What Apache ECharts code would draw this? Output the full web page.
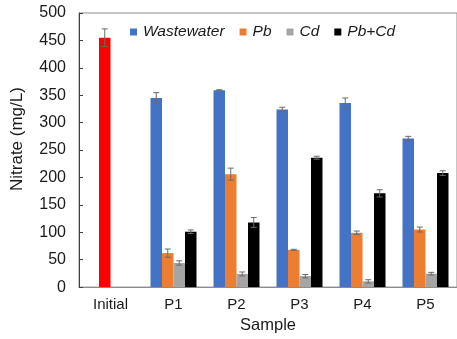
<!DOCTYPE html>
<html>
<head>
<meta charset="utf-8">
<script src="https://cdn.jsdelivr.net/npm/echarts@6/dist/echarts.min.js"></script>
<style>
  html, body { margin: 0; padding: 0; background: #fff; }
  #chart { width: 457px; height: 339px; }
</style>
</head>
<body>
<div id="chart"></div>
<script>
// Nitrate concentration per sample, mean and standard deviation (mg/L)
const categories = ['Initial', 'P1', 'P2', 'P3', 'P4', 'P5'];
const wastewater    = [null, 345, 359, 324, 336, 271];
const wastewaterErr = [null, 9.7, 1, 4, 9, 4];
const pb            = [455, 62, 206, 68, 99, 105];
const pbErr         = [16, 7.5, 11, 1, 3.3, 4.5];
const cd            = [null, 44, 24, 20, 10.5, 24.5];
const cdErr         = [null, 4, 3.6, 3, 3, 2.4];
const pbcd          = [null, 101, 118, 236, 171, 208];
const pbcdErr       = [null, 3.3, 9, 2.7, 6.6, 4.2];
const yTicks = { min: 0, max: 500, interval: 50 };

const seriesNames = ['Wastewater', 'Pb', 'Cd', 'Pb+Cd'];
const seriesColors = ['#4472C4', '#ED7D31', '#A5A5A5', '#000000'];
const initialColor = '#FF0000';
const values = [wastewater, pb, cd, pbcd];
const errors = [wastewaterErr, pbErr, cdErr, pbcdErr];

const FONT = '"Liberation Sans", Arial, sans-serif';
const CATEGORY_GAP = 0.27;

// The initial sample is plotted in the Pb slot, coloured red.
const barSeries = values.map((arr, s) => ({
  name: seriesNames[s],
  type: 'bar',
  barGap: '0%',
  barCategoryGap: (CATEGORY_GAP * 100) + '%',
  itemStyle: { color: seriesColors[s] },
  data: arr.map((v, i) => {
    if (v === null) return null;
    if (s === 1 && i === 0) return { value: v, itemStyle: { color: initialColor } };
    return v;
  })
}));

// Error bar records: [category index, series slot, mean, sd]
const errData = [];
values.forEach((arr, s) => {
  arr.forEach((v, i) => {
    if (v !== null && errors[s][i] !== null) errData.push([i, s, v, errors[s][i]]);
  });
});

const errorSeries = {
  type: 'custom',
  name: 'error',
  z: 10,
  encode: { x: 0, y: 2 },
  data: errData,
  renderItem: function (params, api) {
    const cat = api.value(0);
    const slot = api.value(1);
    const mean = api.value(2);
    const sd = api.value(3);
    const band = api.size([1, 0])[0];
    const groupW = band * (1 - CATEGORY_GAP);
    const bw = groupW / seriesNames.length;
    const cx = api.coord([cat, 0])[0] - groupW / 2 + (slot + 0.5) * bw;
    const yHi = api.coord([cat, mean + sd])[1];
    const yLo = api.coord([cat, mean - sd])[1];
    const cap = 3;
    const style = { stroke: '#6b6b6b', lineWidth: 1 };
    return {
      type: 'group',
      children: [
        { type: 'line', shape: { x1: cx, y1: yHi, x2: cx, y2: yLo }, style: style },
        { type: 'line', shape: { x1: cx - cap, y1: yHi, x2: cx + cap, y2: yHi }, style: style },
        { type: 'line', shape: { x1: cx - cap, y1: yLo, x2: cx + cap, y2: yLo }, style: style }
      ]
    };
  }
};

const chart = echarts.init(document.getElementById('chart'), null, { renderer: 'canvas' });
chart.setOption({
  animation: false,
  backgroundColor: '#ffffff',
  textStyle: { fontFamily: FONT },
  grid: {
    left: 79, top: 13, width: 384, height: 276,
    show: true, borderColor: '#8c8c8c', borderWidth: 1, backgroundColor: 'transparent'
  },
  legend: {
    data: seriesNames,
    left: 130,
    top: 24,
    padding: 0,
    icon: 'rect',
    itemWidth: 7,
    itemHeight: 7,
    itemGap: 15,
    textStyle: { fontFamily: FONT, fontSize: 15.5, fontStyle: 'italic', color: '#1a1a1a', padding: [0, 0, 0, 1] }
  },
  xAxis: {
    type: 'category',
    data: categories,
    name: 'Sample',
    nameLocation: 'middle',
    nameGap: 29,
    nameTextStyle: { fontFamily: FONT, fontSize: 16.5, color: '#1a1a1a' },
    axisLine: { lineStyle: { color: '#8c8c8c', width: 1 } },
    axisTick: { show: false },
    axisLabel: { fontFamily: FONT, fontSize: 15, color: '#1a1a1a', margin: 10 },
    splitLine: { show: false }
  },
  yAxis: {
    type: 'value',
    min: yTicks.min,
    max: yTicks.max,
    interval: yTicks.interval,
    name: 'Nitrate (mg/L)',
    nameLocation: 'middle',
    nameGap: 53,
    nameTextStyle: { fontFamily: FONT, fontSize: 17, color: '#1a1a1a', padding: [0, 0, 0, 22] },
    axisLine: { show: true, lineStyle: { color: '#404040', width: 1 } },
    axisTick: { show: true, inside: true, length: 4, lineStyle: { color: '#404040' } },
    axisLabel: { fontFamily: FONT, fontSize: 16, color: '#1a1a1a', margin: 13 },
    splitLine: { show: false }
  },
  series: barSeries.concat([errorSeries])
});
</script>
</body>
</html>
